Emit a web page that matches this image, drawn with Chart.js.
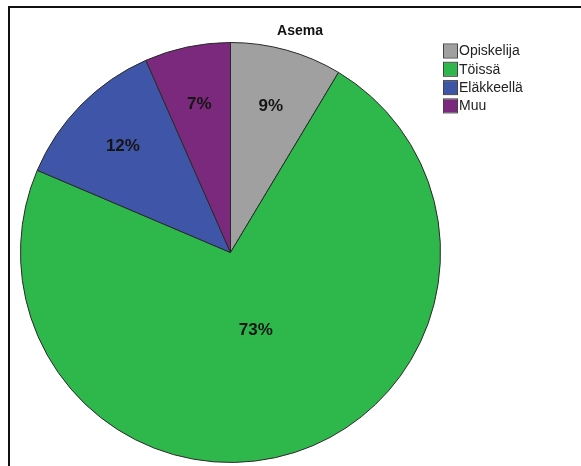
<!DOCTYPE html>
<html>
<head>
<meta charset="utf-8">
<script src="https://cdn.jsdelivr.net/npm/chart.js@4/dist/chart.umd.min.js"></script>
<style>
  html, body { margin: 0; padding: 0; background: #fff; }
  #wrap { position: relative; width: 581px; height: 466px; overflow: hidden; }
  #frame { position: absolute; left: 8px; top: 6px; width: 700px; height: 600px;
           border-left: 2px solid #111; border-top: 2px solid #111; box-sizing: border-box; }
  canvas { position: absolute; left: 0; top: 0; }
</style>
</head>
<body>
<div id="wrap">
  <div id="frame"></div>
  <canvas id="c" width="581" height="466"></canvas>
</div>
<script>
// Asema – osuudet prosentteina
const categories = ['Opiskelija', 'Töissä', 'Eläkkeellä', 'Muu'];
const shares = [8.6, 72.8, 12.0, 6.6];
const sliceColors = ['#a0a0a0', '#2eb84b', '#3f55a7', '#7b297c'];
const chartTitle = 'Asema';

const FONT = '"Liberation Sans", Arial, sans-serif';

// percentage labels inside the slices
const sliceLabels = {
  id: 'sliceLabels',
  afterDatasetsDraw(chart) {
    const ctx = chart.ctx;
    const meta = chart.getDatasetMeta(0);
    const data = chart.data.datasets[0].data;
    const total = data.reduce((a, b) => a + b, 0);
    ctx.save();
    ctx.font = 'bold 17px ' + FONT;
    ctx.fillStyle = '#151515';
    ctx.textAlign = 'center';
    ctx.textBaseline = 'middle';
    meta.data.forEach((arc, i) => {
      const p = arc.getProps(['x', 'y', 'startAngle', 'endAngle', 'outerRadius']);
      const span = p.endAngle - p.startAngle;
      const mid = (p.startAngle + p.endAngle) / 2;
      const r = p.outerRadius * (span > Math.PI ? 0.39 : 0.72);
      const x = p.x + Math.cos(mid) * r;
      const y = p.y + Math.sin(mid) * r;
      ctx.fillText(Math.round(data[i] / total * 100) + '%', x, y);
    });
    ctx.restore();
  }
};

// title and legend beside the pie
const sideDecor = {
  id: 'sideDecor',
  afterDraw(chart) {
    const ctx = chart.ctx;
    ctx.save();
    ctx.font = 'bold 14px ' + FONT;
    ctx.fillStyle = '#111';
    ctx.textAlign = 'center';
    ctx.textBaseline = 'middle';
    ctx.fillText(chartTitle, 300, 31);

    ctx.font = '14px ' + FONT;
    ctx.textAlign = 'left';
    chart.data.labels.forEach((lab, i) => {
      const top = 44.5 + i * 18.3;
      ctx.fillStyle = chart.data.datasets[0].backgroundColor[i];
      ctx.fillRect(444, top, 13, 13);
      ctx.strokeStyle = '#444';
      ctx.lineWidth = 1;
      ctx.strokeRect(443.5, top - 0.5, 14, 14);
      ctx.fillStyle = '#222';
      ctx.fillText(lab, 459, top + 7);
    });
    ctx.restore();
  }
};

new Chart(document.getElementById('c'), {
  type: 'pie',
  data: {
    labels: categories,
    datasets: [{
      data: shares,
      backgroundColor: sliceColors,
      borderColor: '#2a2a2a',
      borderWidth: 1
    }]
  },
  options: {
    responsive: false,
    animation: false,
    layout: { padding: { left: 20, top: 42, right: 140, bottom: 3 } },
    plugins: {
      legend: { display: false },
      title: { display: false },
      tooltip: { enabled: false }
    }
  },
  plugins: [sliceLabels, sideDecor]
});
</script>
</body>
</html>
